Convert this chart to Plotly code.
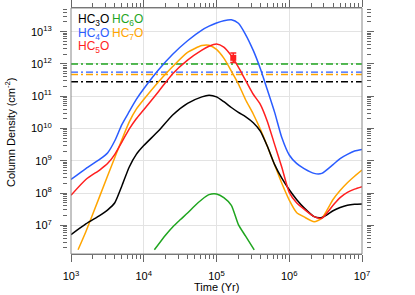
import plotly.graph_objects as go

# ---------------- data ----------------
time_main = [1.0e3, 1.6e3, 2.5e3, 3.2e3, 4.0e3, 5.0e3, 6.3e3, 7.9e3, 1.0e4, 1.6e4, 2.5e4, 4.0e4,
             6.3e4, 7.9e4, 1.0e5, 1.26e5, 1.6e5, 2.0e5, 2.5e5, 3.2e5, 4.0e5, 5.0e5, 6.3e5, 7.9e5,
             1.0e6, 1.26e6, 1.6e6, 2.2e6, 2.8e6, 4.0e6, 5.0e6, 6.3e6, 7.9e6, 1.0e7]

hc3o = [5.13e6, 1.10e7, 2.04e7, 3.02e7, 5.01e7, 1.66e8, 6.31e8, 1.58e9, 2.95e9, 8.51e9, 2.63e10, 6.03e10,
        9.55e10, 1.07e11, 9.55e10, 6.76e10, 4.47e10, 3.16e10, 2.34e10, 1.51e10, 8.32e9, 2.82e9, 7.59e8, 2.88e8,
        1.26e8, 6.31e7, 3.47e7, 1.86e7, 1.74e7, 2.82e7, 3.55e7, 4.17e7, 4.47e7, 4.57e7]

hc4o = [2.63e8, 5.75e8, 1.12e9, 1.78e9, 4.17e9, 1.32e10, 3.31e10, 7.94e10, 1.70e11, 6.61e11, 2.0e12, 5.25e12,
        1.12e13, 1.48e13, 1.86e13, 2.19e13, 2.34e13, 1.82e13, 8.32e12, 2.63e12, 7.24e11, 1.58e11, 3.16e10, 5.25e9,
        1.51e9, 8.32e8, 5.75e8, 4.07e8, 4.07e8, 7.59e8, 1.17e9, 1.58e9, 2.0e9, 2.24e9]

hc5o = [8.51e7, 2.63e8, 5.25e8, 8.32e8, 1.58e9, 3.80e9, 9.55e9, 2.0e10, 3.80e10, 1.41e11, 5.01e11, 1.32e12,
        2.69e12, 3.55e12, 4.17e12, 3.31e12, 1.78e12, 7.94e11, 3.16e11, 1.15e11, 5.62e10, 1.66e10, 3.16e9, 6.31e8,
        1.05e8, 5.01e7, 3.16e7, 1.86e7, 1.66e7, 4.17e7, 7.24e7, 1.05e8, 1.32e8, 1.58e8]

time_hc7o = [1.25e3, 1.6e3, 2.5e3, 4.0e3, 6.3e3, 7.9e3, 1.0e4, 1.6e4, 2.5e4, 4.0e4, 6.3e4, 7.9e4,
             1.0e5, 1.26e5, 1.6e5, 2.0e5, 2.5e5, 3.2e5, 4.0e5, 5.0e5, 6.3e5, 7.9e5,
             1.0e6, 1.26e6, 1.6e6, 2.2e6, 2.8e6, 4.0e6, 5.0e6, 6.3e6, 7.9e6, 1.0e7]
hc7o = [1.74e6, 6.31e6, 8.32e7, 1.26e9, 1.58e10, 3.98e10, 7.94e10, 2.82e11, 8.32e11, 2.29e12, 3.72e12, 3.80e12,
        2.82e12, 1.51e12, 6.03e11, 2.40e11, 7.94e10, 2.82e10, 9.55e9, 2.82e9, 7.41e8, 2.0e8,
        6.03e7, 2.51e7, 1.82e7, 1.29e7, 1.66e7, 6.31e7, 1.20e8, 2.09e8, 3.31e8, 5.13e8]

time_hc6o = [1.4e4, 2.0e4, 2.5e4, 3.2e4, 4.0e4, 5.0e4, 6.3e4, 7.9e4, 1.0e5, 1.26e5, 1.6e5, 2.0e5, 2.5e5, 3.3e5]
hc6o = [1.74e6, 5.01e6, 8.91e6, 1.51e7, 2.40e7, 3.98e7, 6.31e7, 8.91e7, 9.33e7, 7.24e7, 4.17e7, 1.05e7, 4.68e6, 1.74e6]

# observed column densities (horizontal dash-dot lines)
obs_names = ["HC6O", "HC4O", "HC7O", "HC3O"]
obs_values = [1.0e12, 5.6e11, 4.7e11, 2.8e11]

# observed point with error bar (HC5O)
obs_point_time = [1.7e5]
obs_point_value = [1.55e12]
obs_point_err_plus = [0.65e12]
obs_point_err_minus = [0.45e12]

x_tickvals = [1e3, 1e4, 1e5, 1e6, 1e7]
x_ticktext = ["10<sup>3</sup>", "10<sup>4</sup>", "10<sup>5</sup>", "10<sup>6</sup>", "10<sup>7</sup>"]
y_tickvals = [1e7, 1e8, 1e9, 1e10, 1e11, 1e12, 1e13]
y_ticktext = ["10<sup>7</sup>", "10<sup>8</sup>", "10<sup>9</sup>", "10<sup>10</sup>",
              "10<sup>11</sup>", "10<sup>12</sup>", "10<sup>13</sup>"]

# ---------------- style ----------------
BLACK = "#000000"
BLUE = "#2a5cff"
RED = "#ff1f1f"
GREEN = "#1fa51f"
ORANGE = "#ffa500"
colors = {"HC3O": BLACK, "HC4O": BLUE, "HC5O": RED, "HC6O": GREEN, "HC7O": ORANGE}

W, H = 415, 295
L, R, T, B = 67, 49, 8, 41
pw, ph = W - L - R, H - T - B
X0, X1 = 71, 362  # data region in px


def px_to_paper_x(px):
    return (px - L) / pw


def px_to_paper_y(py):
    return (H - B - py) / ph


fig = go.Figure()

# horizontal observation lines
for name, val in zip(obs_names, obs_values):
    fig.add_trace(go.Scatter(x=[1e3, 1e7], y=[val, val], mode="lines",
                             line=dict(color=colors[name], width=1.4, dash="7px,3px,2px,3px"),
                             showlegend=False, hoverinfo="skip"))

series = [
    (time_hc6o, hc6o, GREEN),
    (time_hc7o, hc7o, ORANGE),
    (time_main, hc3o, BLACK),
    (time_main, hc5o, RED),
    (time_main, hc4o, BLUE),
]
for t, v, c in series:
    fig.add_trace(go.Scatter(x=t, y=v, mode="lines",
                             line=dict(color=c, width=1.5, shape="spline", smoothing=0.6),
                             showlegend=False))

fig.add_trace(go.Scatter(x=obs_point_time, y=obs_point_value, mode="markers",
                         marker=dict(symbol="square", size=6, color=RED),
                         error_y=dict(type="data", symmetric=False, array=obs_point_err_plus,
                                      arrayminus=obs_point_err_minus, color=RED, thickness=1.5, width=3),
                         showlegend=False))

# dummy trace for the right axis
fig.add_trace(go.Scatter(x=[1e5], y=[1e10], yaxis="y2", mode="markers",
                         marker=dict(opacity=0), showlegend=False, hoverinfo="skip"))

AX = "#666666"
common_font = dict(family="Liberation Sans, Arial, sans-serif", size=11, color="black")

fig.update_layout(
    width=W, height=H,
    margin=dict(l=L, r=R, t=T, b=B, pad=0, autoexpand=False),
    paper_bgcolor="white", plot_bgcolor="white",
    font=common_font,
    xaxis=dict(type="log", range=[3, 7], domain=[px_to_paper_x(X0), px_to_paper_x(X1)],
               anchor="y", showline=True, linecolor=AX, linewidth=1, mirror="ticks",
               ticks="outside", ticklen=7, tickcolor=AX, tickwidth=1, automargin=False,
               ticklabelstandoff=5,
               tickvals=x_tickvals, ticktext=x_ticktext, tickfont=common_font,
               showgrid=True, gridcolor="#e3e3e3", gridwidth=1, zeroline=False,
               minor=dict(ticks="outside", ticklen=4, tickcolor=AX, dtick="D1", showgrid=False)),
    yaxis=dict(type="log", range=[6.111, 13.734], domain=[0, 1],
               anchor="free", position=0, showline=False, automargin=False,
               ticks="outside", ticklen=7, tickcolor=AX, tickwidth=1, ticklabelstandoff=6,
               tickvals=y_tickvals, ticktext=y_ticktext, tickfont=common_font,
               showgrid=True, gridcolor="#e3e3e3", gridwidth=1, zeroline=False,
               minor=dict(ticks="outside", ticklen=4, tickcolor=AX, dtick="D1", showgrid=False)),
    yaxis2=dict(type="log", range=[6.111, 13.734], overlaying="y", side="right",
                anchor="free", position=1, showline=False, showticklabels=False, automargin=False,
                ticks="outside", ticklen=7, tickcolor=AX, tickwidth=1,
                tickvals=y_tickvals, showgrid=False, zeroline=False,
                minor=dict(ticks="outside", ticklen=4, tickcolor=AX, dtick="D1", showgrid=False)),
    shapes=[dict(type="rect", xref="x domain", yref="y domain", x0=0, x1=1, y0=0, y1=1,
                 line=dict(color="#888888", width=1), layer="above")],
)

ann = []
legend_items = [
    ("HC<sub>3</sub>O", BLACK, 76, 20),
    ("HC<sub>6</sub>O", GREEN, 109.5, 20),
    ("HC<sub>4</sub>O", BLUE, 76, 33.5),
    ("HC<sub>7</sub>O", ORANGE, 109.5, 33.5),
    ("HC<sub>5</sub>O", RED, 76, 47),
]
for txt, c, px, py in legend_items:
    ann.append(dict(text=txt, x=px_to_paper_x(px), y=px_to_paper_y(py), xref="paper", yref="paper",
                    xanchor="left", yanchor="middle", showarrow=False,
                    font=dict(family="Liberation Sans, Arial, sans-serif", size=12, color=c)))
ann.append(dict(text="Time (Yr)", x=px_to_paper_x(216.5), y=px_to_paper_y(287), xref="paper", yref="paper",
                xanchor="center", yanchor="middle", showarrow=False, font=common_font))
ann.append(dict(text="Column Density (cm<sup>-2</sup>)", x=px_to_paper_x(10), y=px_to_paper_y(132),
                xref="paper", yref="paper", xanchor="center", yanchor="middle", textangle=-90,
                showarrow=False, font=common_font))
fig.update_layout(annotations=ann)

fig.write_html("out.html", config={"displayModeBar": False},
               post_script="document.body.style.margin='0px';")
